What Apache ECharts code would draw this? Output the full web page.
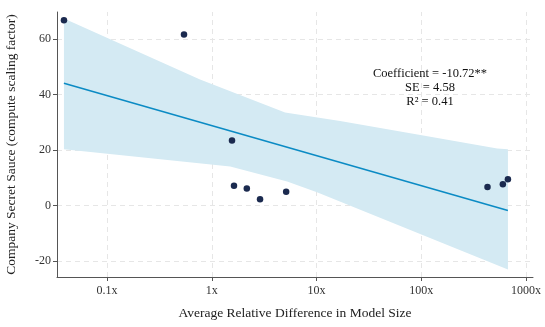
<!DOCTYPE html>
<html>
<head>
<meta charset="utf-8">
<script src="https://cdn.jsdelivr.net/npm/echarts@6/dist/echarts.min.js"></script>
<style>
  html, body { margin: 0; padding: 0; background: #fff; }
</style>
</head>
<body>
<div id="chart" style="width: 545px; height: 327px;"></div>
<script>
// scatter points: [size ratio, secret sauce]
const pointX = [0.0388, 0.543, 1.56, 1.63, 2.16, 2.89, 5.13, 429, 601, 672];
const pointY = [66.7, 61.6, 23.4, 7.1, 6.1, 2.2, 4.9, 6.6, 7.6, 9.4];

// fitted line endpoints
const fitX = [0.0388, 672];
const fitY = [44.0, -1.8];

// confidence band (upper edge left->right, lower edge left->right)
const bandUpperX = [0.0388, 0.773, 5.01, 16.8, 98, 531, 672];
const bandUpperY = [67.4, 45.4, 33.5, 30.4, 25.4, 20.5, 20.2];
const bandLowerX = [0.0388, 1.5, 5.24, 10.1, 390, 672];
const bandLowerY = [20.2, 14.0, 8.6, 4.7, -19.5, -23.1];

const xTicks = [0.1, 1, 10, 100, 1000];
const yTicks = [-20, 0, 20, 40, 60];

const statLines = ["Coefficient = -10.72**", "SE = 4.58", "R\u00b2 = 0.41"];

const FONT = "'Liberation Serif', 'DejaVu Serif', serif";

const bandData = bandUpperX.map((x, i) => [x, bandUpperY[i]])
  .concat(bandLowerX.map((x, i) => [x, bandLowerY[i]]).reverse());

let chart = echarts.init(document.getElementById("chart"));
chart.setOption({
  animation: false,
  grid: { left: 57, right: 12, top: 12, bottom: 50, outerBoundsMode: "none", containLabel: false },
  textStyle: { fontFamily: FONT },
  xAxis: {
    type: "log",
    logBase: 10,
    min: 0.0333,
    max: 1166,
    name: "Average Relative Difference in Model Size",
    nameLocation: "middle",
    nameGap: 29,
    nameTextStyle: { fontFamily: FONT, fontSize: 13.5, color: "#222" },
    axisLine: { show: true, onZero: false, lineStyle: { color: "#555", width: 1 } },
    axisTick: { show: true, length: 4, customValues: xTicks, lineStyle: { color: "#555" } },
    axisLabel: {
      customValues: xTicks,
      fontFamily: FONT, fontSize: 12, color: "#333", margin: 8,
      formatter: v => v + "x"
    },
    splitLine: { show: false }
  },
  yAxis: {
    type: "value",
    min: -25.8,
    max: 69.7,
    name: "Company Secret Sauce (compute scaling factor)",
    nameLocation: "middle",
    nameGap: 39,
    nameTextStyle: { fontFamily: FONT, fontSize: 13.5, color: "#222" },
    axisLine: { show: true, onZero: false, lineStyle: { color: "#555", width: 1 } },
    axisTick: { show: true, length: 4, customValues: yTicks, lineStyle: { color: "#555" } },
    axisLabel: { customValues: yTicks, fontFamily: FONT, fontSize: 12, color: "#333", margin: 6 },
    splitLine: { show: false }
  },
  series: [
    {
      // dashed grid lines at ticks
      type: "line",
      z: 0,
      data: [],
      markLine: {
        z: 0,
        silent: true,
        symbol: "none",
        label: { show: false },
        lineStyle: { color: "#e6e6e6", type: [5, 4], width: 1 },
        data: xTicks.map(v => ({ xAxis: v })).concat(yTicks.map(v => ({ yAxis: v })))
      }
    },
    {
      type: "custom",
      z: 1,
      data: bandData,
      renderItem: function (params, api) {
        if (params.dataIndex !== 0) return null;
        const pts = bandData.map(p => api.coord(p));
        return {
          type: "polygon",
          shape: { points: pts },
          style: { fill: "#d4eaf3" }
        };
      }
    },
    {
      type: "line",
      z: 3,
      data: fitX.map((x, i) => [x, fitY[i]]),
      symbol: "none",
      lineStyle: { color: "#0b8bc4", width: 1.6 }
    },
    {
      type: "scatter",
      z: 4,
      data: pointX.map((x, i) => [x, pointY[i]]),
      symbolSize: 6.5,
      itemStyle: { color: "#1b2a4f", opacity: 1 }
    }
  ],
  graphic: statLines.map((t, i) => ({
    type: "text",
    x: 430,
    y: 74 + i * 14,
    z: 10,
    style: {
      text: t,
      align: "center",
      verticalAlign: "middle",
      fontFamily: FONT,
      fontSize: 12.5,
      fill: "#111"
    }
  }))
});
</script>
</body>
</html>
